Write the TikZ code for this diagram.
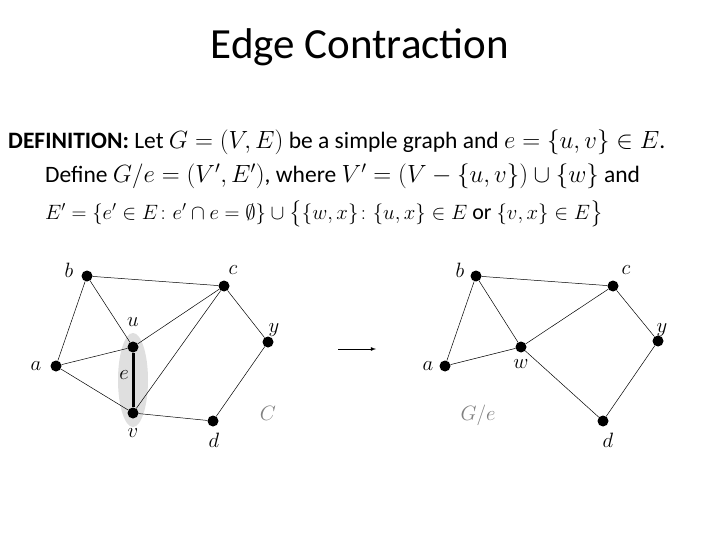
\documentclass[tikz,border=0pt]{standalone}
\usepackage{amsmath,amssymb}
\usepackage{fontspec}
\setmainfont{Carlito}
\begin{document}
\begin{tikzpicture}[x=1pt,y=-1pt,
  dot/.style={circle,fill=black,inner sep=0pt,minimum size=11pt},
  lbl/.style={font=\fontsize{20}{20}\selectfont},
  edge/.style={line width=0.5pt},
  txt/.style={anchor=west,inner sep=0pt,font=\fontsize{23.5}{23.5}\selectfont}]
\useasboundingbox (0,0) rectangle (720,540);
\node (title) at (360,47) {\fontsize{43}{43}\selectfont Edge Contraction};
\node[txt] (l1) at (8,142) {\textbf{DEFINITION:} Let $G=(V,E)$ be a simple graph and $e=\{u,v\}\in E$.};
\node[txt] (l2) at (45,176) {Define $G/e=(V',E')$, where $V'=(V-\{u,v\})\cup\{w\}$ and};
\node[txt,font=\fontsize{22}{22}\selectfont] (l3) at (45,214) {$E'=\{e'\in E\colon e'\cap e=\emptyset\}\cup\bigl\{\{w,x\}\colon\{u,x\}\in E \text{ or } \{v,x\}\in E\bigr\}$};
% left graph
\fill[gray!25] (133,380) ellipse (15 and 47);
\node[dot] (b) at (87,276) {};
\node[dot] (c) at (224,286) {};
\node[dot] (u) at (133,347) {};
\node[dot] (y) at (268,342) {};
\node[dot] (a) at (56,366) {};
\node[dot] (v) at (133,413) {};
\node[dot] (d) at (213,421) {};
\draw[edge] (a)--(b) (b)--(u) (b)--(c) (c)--(u) (c)--(v) (c)--(y) (y)--(d) (a)--(u) (a)--(v) (v)--(d);
\draw[line width=3pt] (u)--(v);
\node[lbl] (lb) at (69,270) {$b$};
\node[lbl] (lc) at (233,270) {$c$};
\node[lbl] (lu) at (133,322) {$u$};
\node[lbl] (ly) at (274,330) {$y$};
\node[lbl] (la) at (36,366) {$a$};
\node[lbl] (le) at (124,375) {$e$};
\node[lbl] (lv) at (133,433) {$v$};
\node[lbl] (ld) at (214,440) {$d$};
\node[lbl,gray] (lC) at (268,413) {$C$};
% arrow
\coordinate (p1) at (338,349); \coordinate (p2) at (376,349);
\draw[-latex,line width=0.8pt] (p1)--(p2);
% right graph
\node[dot] (rb) at (476,276) {};
\node[dot] (rc) at (613,286) {};
\node[dot] (ry) at (658,341) {};
\node[dot] (rw) at (521,347) {};
\node[dot] (ra) at (445,366) {};
\node[dot] (rd) at (603,421) {};
\draw[edge] (ra)--(rb) (rb)--(rw) (rb)--(rc) (rc)--(rw) (rc)--(ry) (ry)--(rd) (rw)--(rd) (ra)--(rw);
\node[lbl] (rlb) at (460,270) {$b$};
\node[lbl] (rlc) at (626,270) {$c$};
\node[lbl] (rly) at (662,330) {$y$};
\node[lbl] (rlw) at (521,364) {$w$};
\node[lbl] (rla) at (428,366) {$a$};
\node[lbl] (rld) at (608,440) {$d$};
\node[lbl,gray] (rlG) at (478,415) {$G/e$};
\end{tikzpicture}
\end{document}
